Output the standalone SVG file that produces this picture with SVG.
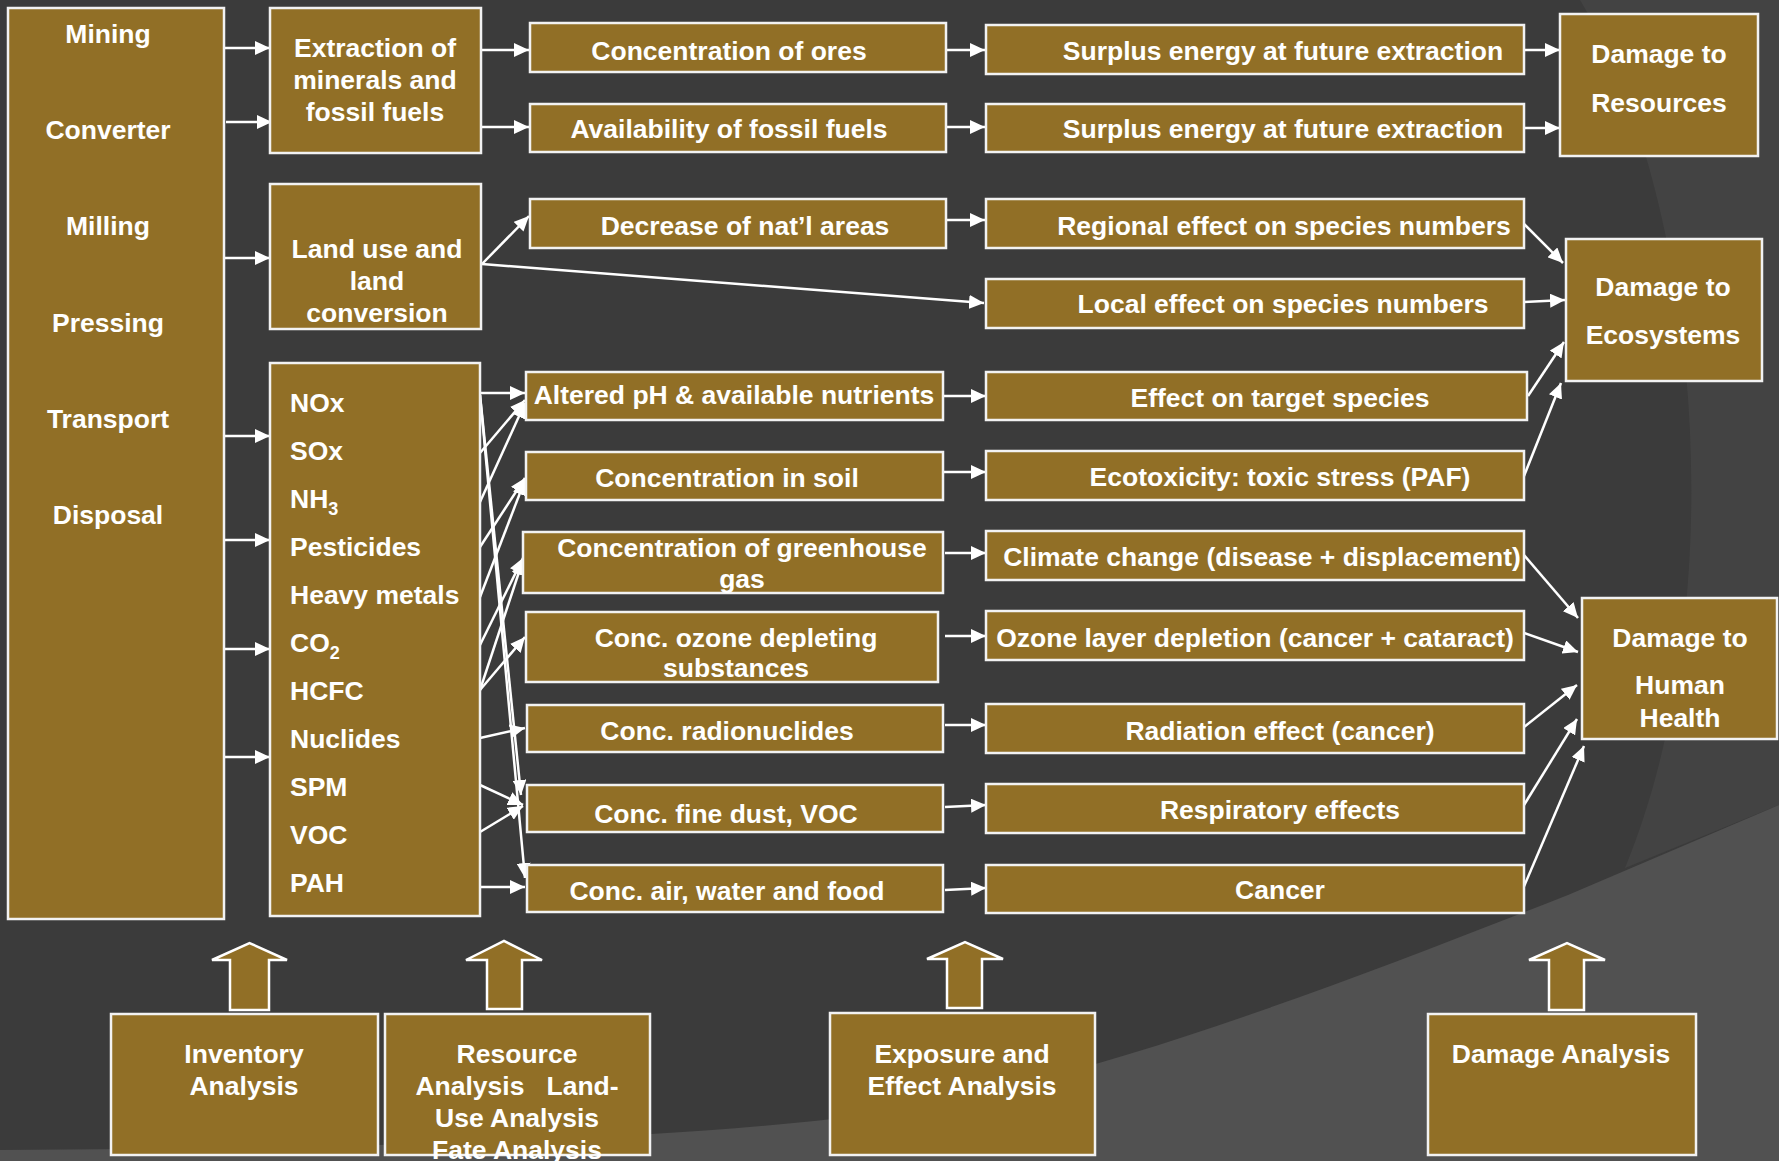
<svg xmlns="http://www.w3.org/2000/svg" width="1779" height="1161" viewBox="0 0 1779 1161">
<defs>
<style>
.bx{fill:#916f26;stroke:#f2f2f2;stroke-width:2.5}
.t{font-family:"Liberation Sans",Arial,sans-serif;font-weight:bold;font-size:26.5px;fill:#ffffff;text-anchor:middle}
.tl{text-anchor:start}
.c line{stroke:#ffffff;stroke-width:2.5;marker-end:url(#ah)}
.ua{fill:#916f26;stroke:#ffffff;stroke-width:2.5}
</style>
<marker id="ah" markerWidth="15" markerHeight="14" refX="15" refY="7" orient="auto" markerUnits="userSpaceOnUse">
<path d="M0,0 L15,7 L0,14 Z" fill="#ffffff"/>
</marker>
</defs>
<rect width="1779" height="1161" fill="#3b3b3b"/>
<path d="M1580,0 C1700,200 1735,600 1625,868 L1779,805 L1779,0 Z" fill="#434343"/>
<path d="M0,1150 C400,1148 700,1140 900,1110 C1100,1075 1300,1000 1568,895 L1779,805 L1779,1161 L0,1161 Z" fill="#515151"/>

<g class="c">
<line x1="224" y1="48" x2="270" y2="48"/>
<line x1="226" y1="122" x2="272" y2="122"/>
<line x1="224" y1="258" x2="270" y2="258"/>
<line x1="224" y1="436" x2="270" y2="436"/>
<line x1="224" y1="540" x2="270" y2="540"/>
<line x1="224" y1="649" x2="270" y2="649"/>
<line x1="224" y1="757" x2="270" y2="757"/>
<line x1="481" y1="50" x2="529" y2="50"/>
<line x1="481" y1="127" x2="529" y2="127"/>
<line x1="482" y1="264" x2="529" y2="216"/>
<line x1="482" y1="264" x2="984" y2="303"/>
<line x1="946" y1="50" x2="985" y2="50"/>
<line x1="946" y1="127" x2="985" y2="127"/>
<line x1="946" y1="220" x2="985" y2="220"/>
<line x1="1524" y1="50" x2="1560" y2="50"/>
<line x1="1524" y1="128" x2="1560" y2="128"/>
<line x1="1524" y1="224" x2="1563" y2="263"/>
<line x1="1524" y1="302" x2="1565" y2="300"/>
<line x1="1528" y1="396" x2="1564" y2="342"/>
<line x1="1524" y1="476" x2="1561" y2="383"/>
<line x1="943" y1="396" x2="986" y2="396"/>
<line x1="943" y1="472" x2="986" y2="472"/>
<line x1="945" y1="553" x2="986" y2="553"/>
<line x1="945" y1="636" x2="986" y2="636"/>
<line x1="945" y1="725" x2="986" y2="725"/>
<line x1="945" y1="807" x2="986" y2="805"/>
<line x1="945" y1="890" x2="986" y2="888"/>
<line x1="1524" y1="555" x2="1578" y2="618"/>
<line x1="1524" y1="633" x2="1578" y2="652"/>
<line x1="1524" y1="727" x2="1577" y2="685"/>
<line x1="1524" y1="805" x2="1577" y2="719"/>
<line x1="1522" y1="891" x2="1584" y2="746"/>
<line x1="480" y1="393" x2="525" y2="393"/>
<line x1="480" y1="453" x2="525" y2="400"/>
<line x1="480" y1="502" x2="525" y2="403"/>
<line x1="480" y1="547" x2="525" y2="478"/>
<line x1="480" y1="597" x2="525" y2="480"/>
<line x1="480" y1="645" x2="523" y2="558"/>
<line x1="480" y1="690" x2="523" y2="560"/>
<line x1="480" y1="690" x2="525" y2="637"/>
<line x1="480" y1="738" x2="525" y2="728"/>
<line x1="480" y1="785" x2="523" y2="805"/>
<line x1="480" y1="832" x2="523" y2="806"/>
<line x1="480" y1="887" x2="525" y2="887"/>
<line x1="480" y1="395" x2="521" y2="795"/>
<line x1="480" y1="395" x2="525" y2="878"/>
</g>

<g id="n-left"><rect class="bx" x="8" y="8" width="216" height="911"/>
<text class="t" x="108" y="43">Mining</text><text class="t" x="108" y="139">Converter</text><text class="t" x="108" y="235">Milling</text><text class="t" x="108" y="332">Pressing</text><text class="t" x="108" y="428">Transport</text><text class="t" x="108" y="524">Disposal</text></g>
<g id="n-extraction"><rect class="bx" x="270" y="8" width="211" height="145"/>
<text class="t" x="375" y="57">Extraction of</text><text class="t" x="375" y="89">minerals and</text><text class="t" x="375" y="121">fossil fuels</text></g>
<g id="n-landuse"><rect class="bx" x="270" y="184" width="211" height="145"/>
<text class="t" x="377" y="258">Land use and</text><text class="t" x="377" y="290">land</text><text class="t" x="377" y="322">conversion</text></g>
<g id="n-substances"><rect class="bx" x="270" y="363" width="210" height="553"/>
<text class="t tl" x="290" y="412">NOx</text><text class="t tl" x="290" y="460">SOx</text>
<text class="t tl" x="290" y="508">NH<tspan font-size="18" dy="7">3</tspan></text>
<text class="t tl" x="290" y="556">Pesticides</text><text class="t tl" x="290" y="604">Heavy metals</text>
<text class="t tl" x="290" y="652">CO<tspan font-size="18" dy="7">2</tspan></text>
<text class="t tl" x="290" y="700">HCFC</text><text class="t tl" x="290" y="748">Nuclides</text><text class="t tl" x="290" y="796">SPM</text><text class="t tl" x="290" y="844">VOC</text><text class="t tl" x="290" y="892">PAH</text></g>

<g id="n-concores"><rect class="bx" x="530" y="23" width="416" height="49"/><text class="t" x="729" y="60">Concentration of ores</text></g>
<g id="n-avail"><rect class="bx" x="530" y="104" width="416" height="48"/><text class="t" x="729" y="138">Availability of fossil fuels</text></g>
<g id="n-decrease"><rect class="bx" x="530" y="199" width="416" height="49"/><text class="t" x="745" y="235">Decrease of nat’l areas</text></g>
<g id="n-surplus1"><rect class="bx" x="986" y="25" width="538" height="49"/><text class="t" x="1283" y="60">Surplus energy at future extraction</text></g>
<g id="n-surplus2"><rect class="bx" x="986" y="104" width="538" height="48"/><text class="t" x="1283" y="138">Surplus energy at future extraction</text></g>
<g id="n-regional"><rect class="bx" x="986" y="199" width="538" height="49"/><text class="t" x="1284" y="235">Regional effect on species numbers</text></g>
<g id="n-local"><rect class="bx" x="986" y="279" width="538" height="49"/><text class="t" x="1283" y="313">Local effect on species numbers</text></g>

<g id="n-altered"><rect class="bx" x="526" y="372" width="417" height="48"/><text class="t" x="734" y="404">Altered pH &amp; available nutrients</text></g>
<g id="n-soil"><rect class="bx" x="526" y="452" width="417" height="48"/><text class="t" x="727" y="487">Concentration in soil</text></g>
<g id="n-greenhouse"><rect class="bx" x="523" y="532" width="420" height="61"/><text class="t" x="742" y="557">Concentration of greenhouse</text><text class="t" x="742" y="588">gas</text></g>
<g id="n-ozoneconc"><rect class="bx" x="526" y="612" width="412" height="70"/><text class="t" x="736" y="647">Conc. ozone depleting</text><text class="t" x="736" y="677">substances</text></g>
<g id="n-radio"><rect class="bx" x="527" y="705" width="416" height="47"/><text class="t" x="727" y="740">Conc. radionuclides</text></g>
<g id="n-dust"><rect class="bx" x="527" y="785" width="416" height="47"/><text class="t" x="726" y="823">Conc. fine dust, VOC</text></g>
<g id="n-air"><rect class="bx" x="527" y="865" width="416" height="47"/><text class="t" x="727" y="900">Conc. air, water and food</text></g>

<g id="n-target"><rect class="bx" x="986" y="372" width="541" height="48"/><text class="t" x="1280" y="407">Effect on target species</text></g>
<g id="n-ecotox"><rect class="bx" x="986" y="451" width="538" height="49"/><text class="t" x="1280" y="486">Ecotoxicity: toxic stress (PAF)</text></g>
<g id="n-climate"><rect class="bx" x="986" y="531" width="538" height="49"/><text class="t" x="1262" y="566">Climate change (disease + displacement)</text></g>
<g id="n-ozonelayer"><rect class="bx" x="986" y="611" width="538" height="49"/><text class="t" x="1255" y="647">Ozone layer depletion (cancer + cataract)</text></g>
<g id="n-radiation"><rect class="bx" x="986" y="704" width="538" height="49"/><text class="t" x="1280" y="740">Radiation effect (cancer)</text></g>
<g id="n-resp"><rect class="bx" x="986" y="784" width="538" height="49"/><text class="t" x="1280" y="819">Respiratory effects</text></g>
<g id="n-cancer"><rect class="bx" x="986" y="865" width="538" height="48"/><text class="t" x="1280" y="899">Cancer</text></g>

<g id="n-resources"><rect class="bx" x="1560" y="14" width="198" height="142"/><text class="t" x="1659" y="63">Damage to</text><text class="t" x="1659" y="112">Resources</text></g>
<g id="n-ecosystems"><rect class="bx" x="1566" y="239" width="196" height="142"/><text class="t" x="1663" y="296">Damage to</text><text class="t" x="1663" y="344">Ecosystems</text></g>
<g id="n-health"><rect class="bx" x="1582" y="598" width="195" height="141"/><text class="t" x="1680" y="647">Damage to</text><text class="t" x="1680" y="694">Human</text><text class="t" x="1680" y="727">Health</text></g>

<g id="n-inventory"><path class="ua" d="M230,1010 L230,960 L212,960 L249.5,943 L287,960 L269,960 L269,1010 Z"/>
<rect class="bx" x="111" y="1014" width="267" height="141"/><text class="t" x="244" y="1063">Inventory</text><text class="t" x="244" y="1095">Analysis</text></g>
<g id="n-resource"><path class="ua" d="M487,1009 L487,960 L466,960 L504,941 L542,960 L522,960 L522,1009 Z"/>
<rect class="bx" x="385" y="1014" width="265" height="141"/><text class="t" x="517" y="1063">Resource</text><text class="t" x="517" y="1095" style="white-space:pre">Analysis   Land-</text><text class="t" x="517" y="1127">Use Analysis</text><text class="t" x="517" y="1159">Fate Analysis</text></g>
<g id="n-exposure"><path class="ua" d="M947,1008 L947,959 L927,959 L965,942 L1003,959 L982,959 L982,1008 Z"/>
<rect class="bx" x="830" y="1013" width="265" height="142"/><text class="t" x="962" y="1063">Exposure and</text><text class="t" x="962" y="1095">Effect Analysis</text></g>
<g id="n-damage"><path class="ua" d="M1549,1010 L1549,960 L1529,960 L1567,943 L1605,960 L1584,960 L1584,1010 Z"/>
<rect class="bx" x="1428" y="1014" width="268" height="141"/><text class="t" x="1561" y="1063">Damage Analysis</text></g>
</svg>
